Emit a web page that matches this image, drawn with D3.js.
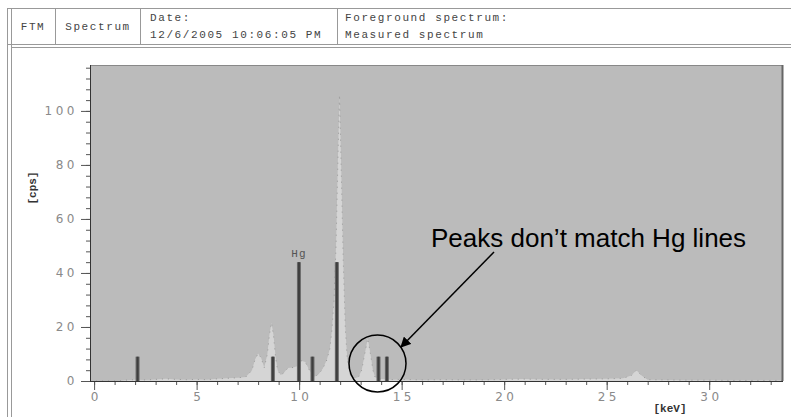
<!DOCTYPE html>
<html><head><meta charset="utf-8">
<script src="https://cdn.jsdelivr.net/npm/d3@7"></script>
<style>body{margin:0;background:#fff;} svg{display:block;}</style>
</head><body>
<svg id="c" width="791" height="417"></svg>
<script>
// ---- data ----
const spectrumKeV = [-0.2,0,1.2,1.5,2.0,2.5,3.0,3.5,4.0,4.5,5.0,5.5,6.0,6.5,7.0,7.4,7.7,7.85,8.0,8.15,8.3,8.45,8.55,8.65,8.75,8.85,8.95,9.1,9.25,9.45,9.7,9.9,10.1,10.3,10.5,10.75,10.95,11.15,11.35,11.5,11.6,11.7,11.8,11.9,11.97,12.05,12.15,12.25,12.35,12.5,12.7,12.9,13.05,13.2,13.35,13.5,13.6,13.7,13.9,14.5,15.0,16.0,17.0,18.0,19.0,20.0,21.0,22.0,23.0,24.0,25.0,25.8,26.2,26.45,26.7,27.0,28.0,29.0,30.0,31.0,32.0,33.0,33.6];
const spectrumCps = [0,0,0,0.3,0.5,0.4,0.6,0.8,0.6,0.5,0.6,0.5,0.8,1.0,1.2,1.5,4,8,10.2,8.5,5,10,17,21.6,17,9,4,2.2,3,4.8,5,5.5,7.5,7,4,1.6,2.5,4.5,7.8,12,19,30,50,85,106,80,45,20,8,2,1,1.5,4,10,15.8,9,4,1.5,0.8,0.5,0.6,0.4,0.5,0.4,0.4,0.6,0.7,0.6,0.6,0.7,0.8,1.0,2,4,2,0.5,0.4,0.3,0.3,0.2,0.2,0.2,0.2];
const hgLineKeV = [2.12, 8.72, 9.99, 10.65, 11.84, 13.87, 14.28];
const hgLineCps = [9, 9, 44, 9, 44, 9, 9];
const xTickLabels = [0,5,10,15,20,25,30];
const yTickLabels = [0,20,40,60,80,100];
const headerCells = ["FTM","Spectrum"];
const dateLines = ["Date:","12/6/2005 10:06:05 PM"];
const fgLines = ["Foreground spectrum:","Measured spectrum"];
const annotation = "Peaks don\u2019t match Hg lines";

// ---- drawing ----
const svg = d3.select("#c");
const mono = "'Liberation Mono','DejaVu Sans Mono',monospace";

// outer frame / header
const frame = svg.append("g").attr("fill","none").attr("stroke","#999");
frame.append("line").attr("x1",7).attr("x2",791).attr("y1",8.5).attr("y2",8.5);
frame.append("line").attr("x1",7).attr("x2",791).attr("y1",44.5).attr("y2",44.5);
frame.append("line").attr("x1",11).attr("x2",791).attr("y1",47.5).attr("y2",47.5);
frame.append("line").attr("x1",7.5).attr("x2",7.5).attr("y1",8).attr("y2",417);
frame.append("line").attr("x1",11.5).attr("x2",11.5).attr("y1",8).attr("y2",417);
[55.5,140.5,337.5].forEach(x=>frame.append("line").attr("x1",x).attr("x2",x).attr("y1",8).attr("y2",44));

const hdr = svg.append("g").attr("font-family",mono).attr("font-size",11).attr("fill","#444").attr("letter-spacing",1.6);
hdr.append("text").attr("x",33).attr("y",30).attr("text-anchor","middle").text(headerCells[0]);
hdr.append("text").attr("x",98).attr("y",30).attr("text-anchor","middle").text(headerCells[1]);
dateLines.forEach((t,i)=>hdr.append("text").attr("x",150).attr("y",21+i*17).text(t));
fgLines.forEach((t,i)=>hdr.append("text").attr("x",345).attr("y",21+i*17).text(t));

// plot
const x = d3.scaleLinear().domain([-0.2,33.6]).range([90,783]);
const y = d3.scaleLinear().domain([0,117]).range([381,65]);

svg.append("rect").attr("x",90).attr("y",65).attr("width",693).attr("height",316).attr("fill","#bbbbbb");

const pts = spectrumKeV.map((k,i)=>[k,spectrumCps[i]]);
const area = d3.area().x(d=>x(d[0])).y0(y(0)).y1(d=>y(d[1]));
svg.append("path").datum(pts).attr("d",area).attr("fill","#d5d5d5");
svg.append("path").datum(pts).attr("d",d3.line().x(d=>x(d[0])).y(d=>y(d[1])))
  .attr("fill","none").attr("stroke","#999").attr("stroke-width",1).attr("stroke-dasharray","1,5");

// Hg lines
const bars = svg.append("g");
hgLineKeV.forEach((k,i)=>{
  bars.append("rect").attr("x",x(k)-2).attr("y",y(hgLineCps[i])).attr("width",4).attr("height",y(0)-y(hgLineCps[i])).attr("fill","#6a6a6a");
  bars.append("rect").attr("x",x(k)-1).attr("y",y(hgLineCps[i])).attr("width",2).attr("height",y(0)-y(hgLineCps[i])).attr("fill","#3e3e3e");
});
svg.append("text").attr("x",x(hgLineKeV[2])).attr("y",y(hgLineCps[2])-5).attr("text-anchor","middle")
  .attr("font-family",mono).attr("font-size",11).attr("fill","#555").attr("letter-spacing",1).text("Hg");

// plot borders
svg.append("line").attr("x1",90).attr("x2",783).attr("y1",65.5).attr("y2",65.5).attr("stroke","#888");
svg.append("line").attr("x1",782.5).attr("x2",782.5).attr("y1",65).attr("y2",381).attr("stroke","#666").attr("stroke-width",2);

// axes
const tickFont = "'DejaVu Sans',sans-serif";
const xMinor = d3.range(0,34,1);
const yMinor = d3.range(0,117,4);
const yAx = svg.append("g").attr("transform","translate(90,0)")
  .call(d3.axisLeft(y).tickValues(yMinor).tickSize(4).tickFormat(""));
yAx.select(".domain").remove();
const yAxM = svg.append("g").attr("transform","translate(90,0)")
  .call(d3.axisLeft(y).tickValues(yTickLabels).tickSize(9).tickPadding(3));
yAxM.select(".domain").remove();
const xAx = svg.append("g").attr("transform","translate(0,381)")
  .call(d3.axisBottom(x).tickValues(xMinor).tickSize(4).tickFormat(""));
xAx.select(".domain").remove();
const xAxM = svg.append("g").attr("transform","translate(0,381)")
  .call(d3.axisBottom(x).tickValues(xTickLabels).tickSize(9).tickPadding(2));
xAxM.select(".domain").remove();
svg.selectAll(".tick line").attr("stroke","#555");
[yAxM,xAxM].forEach(g=>g.selectAll("text").attr("font-family",tickFont).attr("font-size",12)
  .attr("fill","#8a8a8a").attr("letter-spacing",3.5));
xAxM.selectAll("text").attr("dx",1.7);
svg.append("line").attr("x1",90.5).attr("x2",90.5).attr("y1",65).attr("y2",381.5).attr("stroke","#333");
svg.append("line").attr("x1",90).attr("x2",783).attr("y1",381.5).attr("y2",381.5).attr("stroke","#333");

svg.append("text").attr("transform","translate(36,188) rotate(-90)").attr("text-anchor","middle")
  .attr("font-family",mono).attr("font-weight","bold").attr("font-size",11).attr("fill","#333").text("[cps]");
svg.append("text").attr("x",670).attr("y",412).attr("text-anchor","middle")
  .attr("font-family",mono).attr("font-weight","bold").attr("font-size",11).attr("fill","#333").text("[keV]");

// annotation
svg.append("defs").append("marker").attr("id","ah").attr("viewBox","0 0 10 10").attr("refX",9).attr("refY",5)
  .attr("markerWidth",7).attr("markerHeight",7).attr("orient","auto")
  .append("path").attr("d","M0,0 L10,5 L0,10 z").attr("fill","#000");
svg.append("text").attr("x",431).attr("y",247).attr("font-family","'Liberation Sans',Arial,sans-serif")
  .attr("font-size",26).attr("fill","#000").text(annotation);
svg.append("line").attr("x1",494).attr("y1",252).attr("x2",401).attr("y2",347)
  .attr("stroke","#000").attr("stroke-width",1.5).attr("marker-end","url(#ah)");
svg.append("circle").attr("cx",377.5).attr("cy",363.5).attr("r",28.5).attr("fill","none").attr("stroke","#000").attr("stroke-width",1.5);
</script>
</body></html>
